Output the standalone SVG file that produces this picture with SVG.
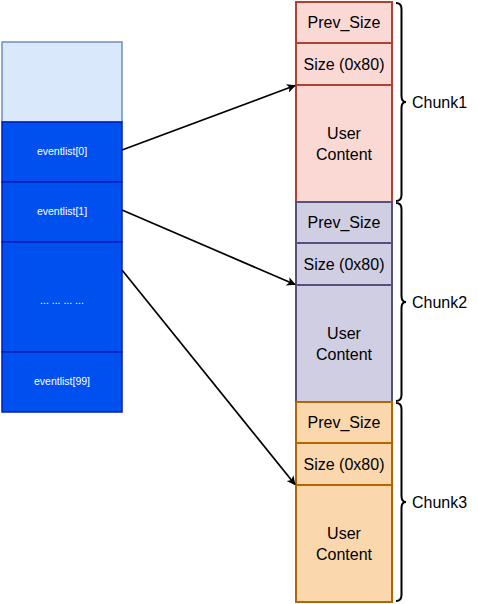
<svg xmlns="http://www.w3.org/2000/svg" width="478" height="604" viewBox="0 0 478 604">
<style>
text{font-family:"Liberation Sans",Arial,Helvetica,sans-serif;text-anchor:middle}
.r{font-size:16px;fill:#000}
.w{font-size:10.5px;fill:#fff}
.lbl{font-size:16px;fill:#000;text-anchor:start}
.c1{fill:#fad9d5;stroke:#ae4132;stroke-width:2}
.c2{fill:#d0cee2;stroke:#56517e;stroke-width:2}
.c3{fill:#fad7ac;stroke:#b46504;stroke-width:2}
.bl{fill:#0050ef;stroke:#001dbc;stroke-width:1.5}
.lt{fill:#dae8fc;stroke:#6c8ebf;stroke-width:1.5}
.brace{fill:none;stroke:#000;stroke-width:2}
.edge{fill:none;stroke:#000;stroke-width:1.7}
</style>
<defs>
<marker id="arr" viewBox="0 0 10 10" refX="9" refY="5" markerWidth="9" markerHeight="9" markerUnits="userSpaceOnUse" orient="auto">
<path d="M0,0 L10,5 L0,10 L2.5,5 Z" fill="#000"/>
</marker>
</defs>
<g id="array">
<rect class="lt" x="2" y="42" width="120" height="80"/>
</g>
<g id="ev0"><rect class="bl" x="2" y="122" width="120" height="60"/><text class="w" x="62" y="155">eventlist[0]</text></g>
<g id="ev1"><rect class="bl" x="2" y="182" width="120" height="60"/><text class="w" x="62" y="215">eventlist[1]</text></g>
<g id="evdots"><rect class="bl" x="2" y="242" width="120" height="110"/><text class="w" x="62" y="304">... ... ... ...</text></g>
<g id="ev99"><rect class="bl" x="2" y="352" width="120" height="60"/><text class="w" x="62" y="385">eventlist[99]</text></g>

<g id="chunk1">
<rect class="c1" x="296" y="2" width="96" height="41"/><text class="r" x="344" y="28">Prev_Size</text>
<rect class="c1" x="296" y="43" width="96" height="42"/><text class="r" x="344" y="70">Size (0x80)</text>
<rect class="c1" x="296" y="85" width="96" height="117"/><text class="r" x="344" y="139">User</text><text class="r" x="344" y="160">Content</text>
</g>
<g id="chunk2">
<rect class="c2" x="296" y="202" width="96" height="41"/><text class="r" x="344" y="228">Prev_Size</text>
<rect class="c2" x="296" y="243" width="96" height="42"/><text class="r" x="344" y="270">Size (0x80)</text>
<rect class="c2" x="296" y="285" width="96" height="117"/><text class="r" x="344" y="339">User</text><text class="r" x="344" y="360">Content</text>
</g>
<g id="chunk3">
<rect class="c3" x="296" y="402" width="96" height="41"/><text class="r" x="344" y="428">Prev_Size</text>
<rect class="c3" x="296" y="443" width="96" height="42"/><text class="r" x="344" y="470">Size (0x80)</text>
<rect class="c3" x="296" y="485" width="96" height="117"/><text class="r" x="344" y="539">User</text><text class="r" x="344" y="560">Content</text>
</g>

<g id="brace1"><path class="brace" d="M396,3 Q401.5,3 401.5,9 L401.5,96 Q401.5,102 406,102 Q401.5,102 401.5,108 L401.5,195 Q401.5,201 396,201"/><text class="lbl" x="412" y="108">Chunk1</text></g>
<g id="brace2"><path class="brace" d="M396,203 Q401.5,203 401.5,209 L401.5,296 Q401.5,302 406,302 Q401.5,302 401.5,308 L401.5,395 Q401.5,401 396,401"/><text class="lbl" x="412" y="308">Chunk2</text></g>
<g id="brace3"><path class="brace" d="M396,403 Q401.5,403 401.5,409 L401.5,496 Q401.5,502 406,502 Q401.5,502 401.5,508 L401.5,595 Q401.5,601 396,601"/><text class="lbl" x="412" y="508">Chunk3</text></g>

<g id="connectors">
<line class="edge" x1="122" y1="150" x2="295" y2="85.5" marker-end="url(#arr)"/>
<line class="edge" x1="122" y1="210" x2="295" y2="284.5" marker-end="url(#arr)"/>
<line class="edge" x1="122" y1="270" x2="295" y2="484.5" marker-end="url(#arr)"/>
</g>
</svg>
